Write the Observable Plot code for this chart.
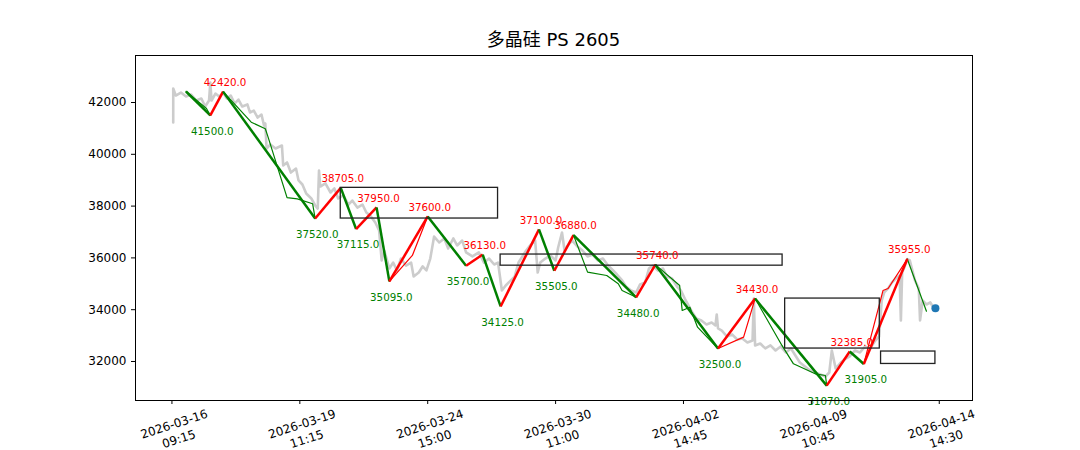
<!DOCTYPE html>
<html><head><meta charset="utf-8">
<script src="https://cdn.jsdelivr.net/npm/d3@7"></script>
<script src="https://cdn.jsdelivr.net/npm/@observablehq/plot@0.6"></script>
<style>
body{margin:0;background:#fff;font-family:"DejaVu Sans","Noto Sans CJK SC",sans-serif;}
#title{height:50px;box-sizing:border-box;padding-top:29px;line-height:22px;font-size:18px;margin-left:135px;width:837px;text-align:center;color:#000;white-space:nowrap;}
</style></head><body>
<div id="title">多晶硅 PS 2605</div>
<div id="chart"></div>
<script>
// gray price series (bar index, price)
const grayIdx = [1,1,3,7,11,15,19,23,26,29,30,31,34,37,40,43,46,49,52,55,59,61,64,67,70,72,73,74,77,81,86,87,90,93,97,99,102,105,109,112,114,115,116,120,124,127,130,134,138,141,145,149,152,155,159,162,164,166,170,173,176,179,183,187,189,193,196,199,202,205,209,213,216,220,223,227,230,235,240,244,248,252,255,258,261,265,268,271,274,277,280,284,286,288,292,296,300,302,305,307,310,313,317,321,325,329,333,337,341,345,348,352,355,359,363,366,370,373,376,380,384,387,391,395,398,401,404,407,410,414,418,422,425,426,427,430,434,438,442,446,450,454,455,456,460,464,468,472,476,480,484,488,491,495,499,503,507,511,514,516,519,523,527,530,534,538,542,546,550,553,555,557,560,563,566,569,570,571,573,575,577,579,581,584,585,587,590,593,596];
const grayVal = [41230,42540,42270,42385,42230,42310,42075,42155,41845,42075,42770,42075,42345,42230,42385,42155,42270,41960,42115,41845,41925,41615,41690,41420,41535,41110,41190,40225,40380,40225,40340,39570,39685,39295,39450,38990,38835,38485,38295,38025,37905,39375,38755,38875,38525,38680,38295,38410,38060,38215,37945,38060,37755,37635,37365,37060,35900,36285,35590,35820,35515,35975,35705,35820,35280,35435,35670,35515,35975,36825,36595,36750,36365,36750,36480,36670,36210,36055,36210,35820,35975,35745,35820,34740,34935,35130,35280,35820,36055,36285,36480,36670,35435,35820,35975,36095,35900,36400,36980,36285,36515,36670,36440,36285,36055,36130,35900,35975,35705,35515,35360,35130,34895,34740,34665,34975,35050,35590,35705,35515,35590,35280,35205,34895,34740,34430,34160,33890,33660,33585,33430,33505,33390,33815,33275,33195,32965,33045,32850,32890,32735,32810,34430,32620,32695,32505,32620,32425,32580,32350,32505,32195,31960,31805,31655,31575,31500,31420,31575,32425,31730,31960,32115,32195,32425,32350,32580,32505,32810,32965,34355,34665,34820,35050,35205,35320,33585,35435,35670,35955,35900,35515,35130,34820,33585,34355,34200,34280,34045];

// thick zigzag pivots
const pivotIdx = [11,30,40,112,132,144,160,170,200,230,243,257,287,299,314,363,378,427,456,512,530,541,575];
const pivotVal = [42425,41500,42420,37520,38705,37115,37950,35095,37600,35700,36130,34125,37100,35505,36880,34480,35740,32500,34430,31070,32385,31905,35955];

// thin sub-strokes (group, index, price)
const thinGroup = [1,1,1,1,1,1,1,1, 2,2,2, 3,3,3, 4,4,4,4,4,4, 5,5,5,5,5,5, 6,6,6, 7,7,7,7,7,7, 8,8,8,8, 9,9];
const thinIdx   = [40,62,73,75,90,98,110,112, 11,27,30, 170,188,200, 314,325,340,349,352,363, 378,397,399,405,411,427, 427,447,456, 456,477,486,503,511,512, 541,556,560,575, 575,590];
const thinVal   = [42420,41240,40985,40690,38330,38280,38090,37520, 42425,41770,41500, 35095,36095,37600, 36880,35450,35320,35000,34740,34480, 35740,34935,33970,34095,33325,32500, 32500,32940,34430, 34430,32620,31910,31525,31460,31070, 31905,34740,34820,35955, 35955,33940];
const thinDir   = {1:"down",2:"down",3:"up",4:"down",5:"down",6:"up",7:"down",8:"up",9:"down"};

// pivot boxes
const boxX1 = [132, 257, 479.5, 554.5];
const boxX2 = [255, 477.5, 553.5, 597];
const boxLow = [37520, 35700, 32500, 31905];
const boxHigh = [38705, 36130, 34430, 32385];

// last price marker
const lastIdx = 597, lastVal = 34060;

// axes
const xTickIdx = [0,100,200,300,400,500,600];
const xTickLabels = ["2026-03-16\n09:15","2026-03-19\n11:15","2026-03-24\n15:00","2026-03-30\n11:00","2026-04-02\n14:45","2026-04-09\n10:45","2026-04-14\n14:30"];
const yTicks = [32000,34000,36000,38000,40000,42000];

const RED = "#ff0000", GREEN = "#008000";

const gray = grayIdx.map((x,i)=>({x, y: grayVal[i]}));
const thin = thinIdx.map((x,i)=>({x, y: thinVal[i], g: thinGroup[i], c: thinDir[thinGroup[i]]==="up"?RED:GREEN}));
const thick = pivotIdx.slice(1).map((x,i)=>({x1: pivotIdx[i], y1: pivotVal[i], x2: x, y2: pivotVal[i+1], c: pivotVal[i+1] > pivotVal[i] ? RED : GREEN}));
const labels = pivotIdx.slice(1).map((x,i)=>{const v=pivotVal[i+1]; const up = v > pivotVal[i]; return {x, y: v, t: v.toFixed(1), up};});
const boxes = boxX1.map((x1,i)=>({x1, x2: boxX2[i], y1: boxLow[i], y2: boxHigh[i]}));

const chart = Plot.plot({
  width: 1080, height: 400,
  marginLeft: 135, marginRight: 108, marginTop: 5, marginBottom: 50,
  x: {domain: [-28.5, 626]},
  y: {domain: [30494, 43815]},
  color: {type: "identity"},
  style: {fontFamily: "DejaVu Sans", fontSize: "12px", color: "#000", background: "#fff", overflow: "visible"},
  marks: [
    Plot.line(gray, {x: "x", y: "y", stroke: "#cccccc", strokeWidth: 2.6}),
    Plot.line(thin, {x: "x", y: "y", z: "g", stroke: "c", strokeWidth: 1.2}),
    Plot.link(thick, {x1: "x1", y1: "y1", x2: "x2", y2: "y2", stroke: "c", strokeWidth: 2.5}),
    Plot.rect(boxes, {x1: "x1", x2: "x2", y1: "y1", y2: "y2", fill: "none", stroke: "#222", strokeWidth: 1.3}),
    Plot.text(labels.filter(d=>d.up), {x: "x", y: "y", text: "t", fill: RED, fontSize: 10.3, dx: 2, dy: -9}),
    Plot.text(labels.filter(d=>!d.up), {x: "x", y: "y", text: "t", fill: GREEN, fontSize: 10.3, dx: 2, dy: 16}),
    Plot.dot([{x: lastIdx, y: lastVal}], {x: "x", y: "y", r: 4, fill: "#1f77b4"}),
    Plot.frame({stroke: "#000", strokeWidth: 1}),
    Plot.axisY({ticks: yTicks, tickSize: 4, tickPadding: 5, fontSize: 12, label: null, tickFormat: d => String(d)}),
    Plot.axisX({ticks: xTickIdx, tickSize: 4, tickPadding: 13, fontSize: 12, label: null, tickRotate: -18, textAnchor: "middle", lineAnchor: "top", lineHeight: 1.3, tickFormat: d => xTickLabels[xTickIdx.indexOf(d)]})
  ]
});
document.getElementById("chart").appendChild(chart);
</script>
</body></html>
